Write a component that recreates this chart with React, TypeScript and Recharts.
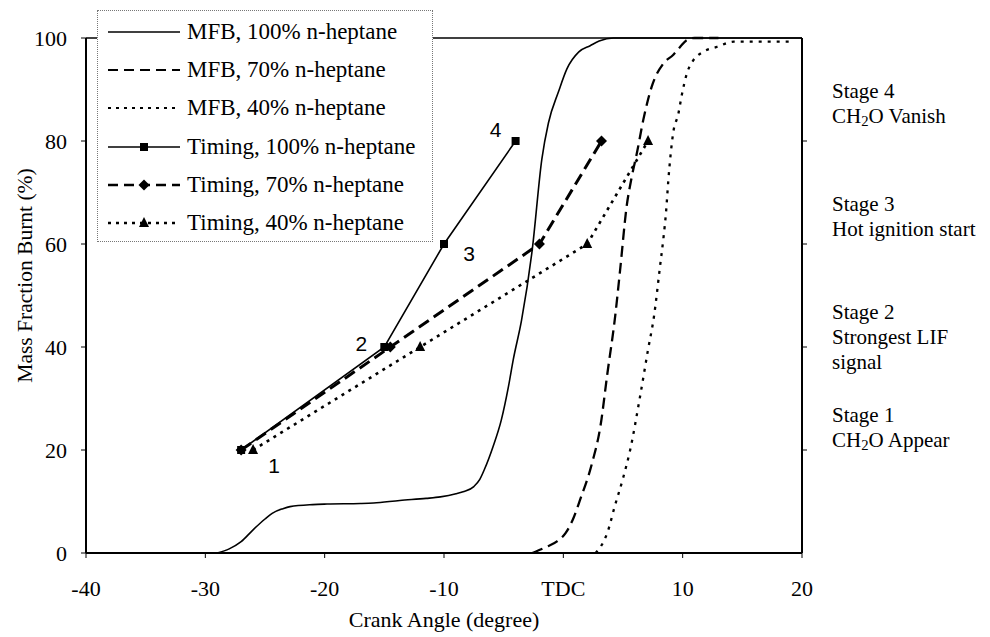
import React from 'react';
import { LineChart, Line, XAxis, YAxis, ReferenceLine, Legend, LabelList, Label } from 'recharts';

// ---------- data ----------
const xTicks = [-40, -30, -20, -10, 0, 10, 20];
const yTicks = [0, 20, 40, 60, 80, 100];
const stageTicks = [20, 40, 60, 80];
const stageLines: Record<number, string[]> = {
  20: ['Stage 1', 'CH2O Appear'],
  40: ['Stage 2', 'Strongest LIF', 'signal'],
  60: ['Stage 3', 'Hot ignition start'],
  80: ['Stage 4', 'CH2O Vanish'],
};
const pointNames = ['1', '2', '3', '4'];

const mfb100 = [
  { x: -29, y: 0 }, { x: -28, y: 0.8 }, { x: -27, y: 2.2 }, { x: -26, y: 4.5 }, { x: -25, y: 6.6 },
  { x: -24.4, y: 7.7 }, { x: -23.5, y: 8.6 }, { x: -22.9, y: 9.0 }, { x: -21, y: 9.4 }, { x: -19.8, y: 9.5 },
  { x: -17, y: 9.6 }, { x: -15.9, y: 9.7 }, { x: -13.7, y: 10.2 }, { x: -11.5, y: 10.6 }, { x: -10.3, y: 10.9 },
  { x: -9, y: 11.5 }, { x: -8.4, y: 11.9 }, { x: -7.5, y: 12.9 }, { x: -7.0, y: 14.3 }, { x: -6.6, y: 16.3 },
  { x: -5.9, y: 20.6 }, { x: -5.2, y: 25.8 }, { x: -4.6, y: 32.3 }, { x: -4.2, y: 37.5 }, { x: -3.5, y: 45.2 },
  { x: -2.6, y: 59 }, { x: -1.8, y: 76.5 }, { x: -1.25, y: 83.5 }, { x: -0.4, y: 89.6 }, { x: 0.3, y: 94 },
  { x: 1.3, y: 97.3 }, { x: 2.25, y: 98.5 }, { x: 3, y: 99.4 }, { x: 4.2, y: 100 }, { x: 20, y: 100 },
];

const mfb70 = [
  { x: -2.6, y: 0 }, { x: -1.4, y: 1.2 }, { x: -0.5, y: 2.3 }, { x: 0.2, y: 3.9 }, { x: 0.8, y: 6.5 },
  { x: 1.4, y: 10.3 }, { x: 2.4, y: 17.4 }, { x: 3.1, y: 24.5 }, { x: 3.7, y: 35 }, { x: 4.34, y: 45.9 },
  { x: 4.76, y: 55 }, { x: 5.3, y: 67.2 }, { x: 5.74, y: 73.1 }, { x: 6.16, y: 77.6 }, { x: 6.7, y: 84.1 },
  { x: 7.4, y: 90.5 }, { x: 8.4, y: 95.1 }, { x: 9.2, y: 96.7 }, { x: 9.8, y: 98.3 }, { x: 10.35, y: 99.6 },
  { x: 11, y: 100 }, { x: 13, y: 100 },
];

const mfb40 = [
  { x: 2.7, y: 0 }, { x: 3.2, y: 1.5 }, { x: 3.7, y: 4 }, { x: 4.3, y: 9 }, { x: 5, y: 14.5 },
  { x: 5.6, y: 20 }, { x: 6.4, y: 30 }, { x: 7.1, y: 39.5 }, { x: 7.6, y: 46 }, { x: 8.1, y: 55.6 },
  { x: 8.4, y: 61.4 }, { x: 8.6, y: 66 }, { x: 8.8, y: 72.4 }, { x: 9.0, y: 77.6 }, { x: 9.2, y: 81.5 },
  { x: 9.65, y: 85.4 }, { x: 9.9, y: 88.6 }, { x: 10.35, y: 93.1 }, { x: 10.9, y: 95.7 }, { x: 11.7, y: 97.3 },
  { x: 12.9, y: 98.3 }, { x: 14.3, y: 99.3 }, { x: 19, y: 99.3 },
];

const timing100 = [{ x: -27, y: 20 }, { x: -15, y: 40 }, { x: -10, y: 60 }, { x: -4, y: 80 }];
const timing70 = [{ x: -27, y: 20 }, { x: -14.5, y: 40 }, { x: -2, y: 60 }, { x: 3.2, y: 80 }];
const timing40 = [{ x: -26, y: 20 }, { x: -12, y: 40 }, { x: 2, y: 60 }, { x: 7.1, y: 80 }];

// ---------- styles ----------
const SERIF = '"Liberation Serif", "Times New Roman", serif';
const SANS = '"Liberation Sans", Arial, sans-serif';
const labelOffsets = [
  [33, 15],
  [-23, -4],
  [25, 9],
  [-20, -12],
];
// vertical placement of the stage text boxes relative to their tick (px)
const stageShift: Record<number, number> = { 80: -50, 60: -40, 40: -35, 20: -35 };

const SquareDot = (p: any) => {
  if (p.cx == null || p.cy == null) return null;
  return <rect key={p.key} x={p.cx - 4} y={p.cy - 4} width={8} height={8} fill="#000" />;
};
const DiamondDot = (p: any) => {
  if (p.cx == null || p.cy == null) return null;
  const s = 5.5;
  return <polygon key={p.key} points={`${p.cx},${p.cy - s} ${p.cx + s},${p.cy} ${p.cx},${p.cy + s} ${p.cx - s},${p.cy}`} fill="#000" />;
};
const TriangleDot = (p: any) => {
  if (p.cx == null || p.cy == null) return null;
  return <polygon key={p.key} points={`${p.cx},${p.cy - 6} ${p.cx + 5},${p.cy + 4} ${p.cx - 5},${p.cy + 4}`} fill="#000" />;
};

const legendItems = [
  { name: 'MFB, 100% n-heptane', dash: undefined, width: 1.5, marker: null },
  { name: 'MFB, 70% n-heptane', dash: '10 6', width: 2, marker: null },
  { name: 'MFB, 40% n-heptane', dash: '3 5', width: 2, marker: null },
  { name: 'Timing, 100% n-heptane', dash: undefined, width: 1.5, marker: 'square' },
  { name: 'Timing, 70% n-heptane', dash: '10 6', width: 2.5, marker: 'diamond' },
  { name: 'Timing, 40% n-heptane', dash: '3 5', width: 2.5, marker: 'triangle' },
];

const renderLegend = () => (
  <div
    style={{
      width: 336,
      height: 232,
      boxSizing: 'border-box',
      border: '1px dotted #777',
      background: '#fff',
      paddingTop: 2,
      fontFamily: SERIF,
      fontSize: 23,
      color: '#000',
    }}
  >
    {legendItems.map((it) => (
      <div key={it.name} style={{ height: 38.2, display: 'flex', alignItems: 'center', whiteSpace: 'nowrap' }}>
        <svg width={72} height={20} style={{ marginLeft: 10, marginRight: 7, flex: 'none' }}>
          <line x1={0} y1={10} x2={72} y2={10} stroke="#000" strokeWidth={it.width} strokeDasharray={it.dash} />
          {it.marker === 'square' && <SquareDot cx={36} cy={10} />}
          {it.marker === 'diamond' && <DiamondDot cx={36} cy={10} />}
          {it.marker === 'triangle' && <TriangleDot cx={36} cy={10} />}
        </svg>
        <span>{it.name}</span>
      </div>
    ))}
  </div>
);

const renderLine = (line: string, fs: number) => {
  if (line.startsWith('CH2O')) {
    return [
      <tspan key="a">CH</tspan>,
      <tspan key="b" fontSize={fs * 0.7} dy={5}>2</tspan>,
      <tspan key="c" dy={-5}>{line.slice(3)}</tspan>,
    ];
  }
  return line;
};

const StageTick = (props: any) => {
  const { x, y, payload } = props;
  const lines = stageLines[payload.value] || [];
  const shift = stageShift[payload.value] ?? -28;
  const fs = 21;
  return (
    <g>
      {lines.map((ln, i) => (
        <text
          key={i}
          x={x}
          y={y + shift + i * 25}
          textAnchor="start"
          dominantBaseline="central"
          fontFamily={SERIF}
          fontSize={fs}
          fill="#000"
        >
          {renderLine(ln, fs)}
        </text>
      ))}
    </g>
  );
};

const PointLabel = (props: any) => {
  const { x, y, index } = props;
  if (x == null || y == null) return null;
  const off = labelOffsets[index] || [0, 0];
  return (
    <text x={x + off[0]} y={y + off[1]} textAnchor="middle" dominantBaseline="central" fontFamily={SANS} fontSize={21} fill="#000">
      {pointNames[index]}
    </text>
  );
};

const YTitle = (props: any) => {
  const vb = props.viewBox || { x: 0, y: 38, width: 86, height: 515 };
  const cx = vb.x + 25;
  const cy = vb.y + vb.height / 2 - 20;
  return (
    <text x={cx} y={cy} transform={`rotate(-90 ${cx} ${cy})`} textAnchor="middle" dominantBaseline="central" fontFamily={SERIF} fontSize={21.5} fill="#000">
      Mass Fraction Burnt (%)
    </text>
  );
};

export default function App() {
  const tickStyle = { fontFamily: SERIF, fontSize: 22, fill: '#000' };
  return (
    <div style={{ position: 'absolute', left: 0, top: 0, width: 990, height: 637, background: '#fff' }}>
      <LineChart width={990} height={637} margin={{ top: 38, right: 0, bottom: 0, left: 0 }}>
        <XAxis
          type="number"
          dataKey="x"
          domain={[-40, 20]}
          ticks={xTicks}
          allowDataOverflow
          height={84}
          tickSize={5}
          tickMargin={22}
          tick={tickStyle}
          tickFormatter={(v: number) => (v === 0 ? 'TDC' : String(v))}
          axisLine={{ stroke: '#000', strokeWidth: 2 }}
          tickLine={{ stroke: '#000', strokeWidth: 1 }}
        >
          <Label value="Crank Angle (degree)" position="insideBottom" offset={10} style={{ fontFamily: SERIF, fontSize: 22, fill: '#000' }} />
        </XAxis>
        <YAxis
          yAxisId="l"
          type="number"
          domain={[0, 100]}
          ticks={yTicks}
          width={86}
          tickSize={5}
          tickMargin={14}
          tick={tickStyle}
          axisLine={{ stroke: '#000', strokeWidth: 2 }}
          tickLine={{ stroke: '#000', strokeWidth: 1 }}
        >
          <Label content={<YTitle />} />
        </YAxis>
        <YAxis
          yAxisId="r"
          orientation="right"
          type="number"
          domain={[0, 100]}
          ticks={stageTicks}
          width={188}
          tickSize={5}
          tickMargin={25}
          tick={<StageTick />}
          axisLine={{ stroke: '#000', strokeWidth: 2 }}
          tickLine={{ stroke: '#000', strokeWidth: 1 }}
        />
        <ReferenceLine yAxisId="l" y={100} stroke="#000" strokeWidth={1.5} />
        <Line yAxisId="r" data={mfb100} dataKey="y" type="monotone" stroke="#000" strokeWidth={1.6} dot={false} isAnimationActive={false} />
        <Line yAxisId="l" data={mfb70} dataKey="y" type="monotone" stroke="#000" strokeWidth={2.3} strokeDasharray="11 6" dot={false} isAnimationActive={false} />
        <Line yAxisId="l" data={mfb40} dataKey="y" type="monotone" stroke="#000" strokeWidth={2.3} strokeDasharray="3 6" dot={false} isAnimationActive={false} />
        <Line yAxisId="l" data={timing100} dataKey="y" type="linear" stroke="#000" strokeWidth={1.6} dot={<SquareDot />} isAnimationActive={false}>
          <LabelList dataKey="y" content={<PointLabel />} />
        </Line>
        <Line yAxisId="l" data={timing70} dataKey="y" type="linear" stroke="#000" strokeWidth={3} strokeDasharray="12 6" dot={<DiamondDot />} isAnimationActive={false} />
        <Line yAxisId="l" data={timing40} dataKey="y" type="linear" stroke="#000" strokeWidth={2.6} strokeDasharray="3 5" dot={<TriangleDot />} isAnimationActive={false} />
        <Legend
          layout="vertical"
          align="center"
          verticalAlign="middle"
          content={renderLegend}
          wrapperStyle={{ left: 97, top: 10, width: 336, height: 232 }}
        />
      </LineChart>
    </div>
  );
}
